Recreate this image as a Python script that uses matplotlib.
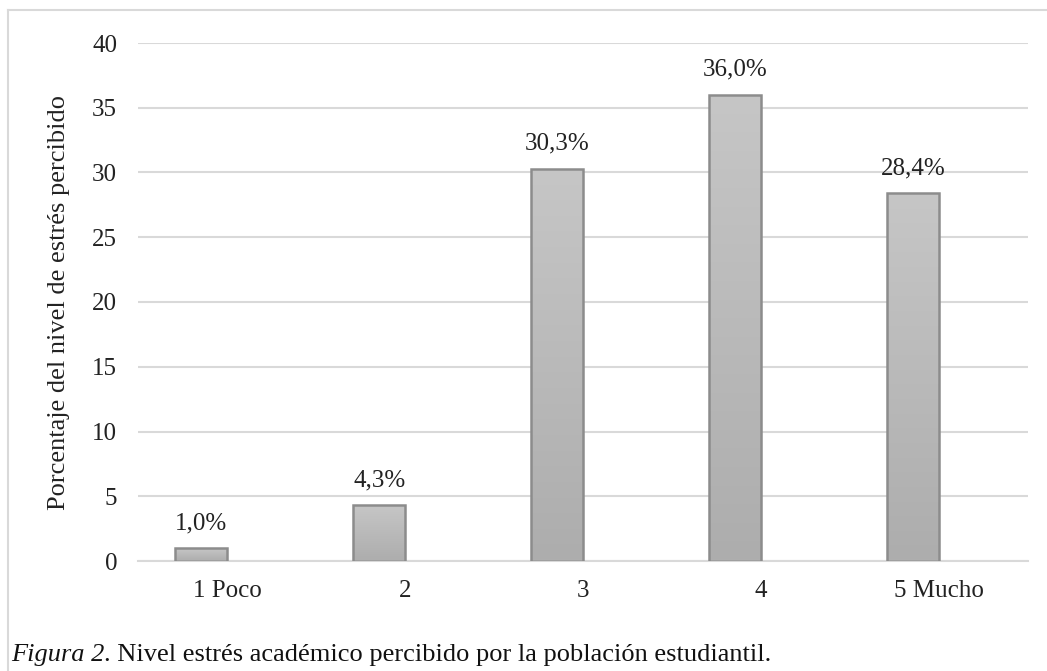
import matplotlib
matplotlib.use("Agg")
import matplotlib.pyplot as plt
import numpy as np
from matplotlib.lines import Line2D
from matplotlib.colors import LinearSegmentedColormap

categories = ["1 Poco", "2", "3", "4", "5 Mucho"]
values = [1.0, 4.3, 30.3, 36.0, 28.4]
labels = ["1,0%", "4,3%", "30,3%", "36,0%", "28,4%"]
yticks = [0, 5, 10, 15, 20, 25, 30, 35, 40]

plt.rcParams['font.family'] = ['Liberation Serif', 'DejaVu Serif']
FS = 18
FS_L = 19

fig = plt.figure(figsize=(10.47, 6.71), dpi=100)
ax = fig.add_axes([138/1047, 1-561/671, 890/1047, (561-43)/671])

x = np.arange(len(categories))
BW = 0.29
bars = ax.bar(x - BW / 2, values, width=BW, facecolor='none', edgecolor='#8c8c8c', linewidth=1.8, zorder=3)

grad = np.linspace(0, 1, 256).reshape(-1, 1)
cmap = LinearSegmentedColormap.from_list('g', ['#adadad', '#c6c6c6'])
for b in bars:
    x0, y0 = b.get_x(), b.get_y()
    w, h = b.get_width(), b.get_height()
    im = ax.imshow(grad, extent=[x0, x0 + w, y0, y0 + h], origin='lower',
                   cmap=cmap, aspect='auto', zorder=2)
    im.set_clip_path(b)

for b, lab in zip(bars, labels):
    ax.annotate(lab, (b.get_x() + b.get_width() / 2, b.get_height()), xytext=(0, 10),
                textcoords='offset points', ha='center', va='bottom', fontsize=FS, color='#222222')

ax.set_xlim(-0.5, 4.5)
ax.set_ylim(0, 40)
ax.set_yticks(yticks)
ax.set_yticklabels([str(t) for t in yticks])
ax.set_xticks(x)
ax.set_xticklabels(categories)
ax.tick_params(axis='both', length=0, labelsize=FS, colors='#222222')
ax.tick_params(axis='y', pad=15)
ax.tick_params(axis='x', pad=14)
ax.grid(axis='y', color='#d9d9d9', linewidth=1.5, zorder=0)
ax.set_axisbelow(True)
for s in ['top', 'right', 'left']:
    ax.spines[s].set_visible(False)
ax.spines['bottom'].set_color('#d9d9d9')
ax.spines['bottom'].set_linewidth(1.5)
ax.set_ylabel('Porcentaje del nivel de estrés percibido', fontsize=FS_L, color='#222222', labelpad=16)

# outer border
fig.add_artist(Line2D([8/1047, 1.01], [1-10/671, 1-10/671], transform=fig.transFigure, color='#d9d9d9', linewidth=1.5))
fig.add_artist(Line2D([8/1047, 8/1047], [-0.01, 1-10/671], transform=fig.transFigure, color='#d9d9d9', linewidth=1.5))

# caption
t1 = fig.text(11/1047, 1-655/671, 'Figura 2', fontsize=FS_L, style='italic', va='center', ha='left', color='#111111')
fig.canvas.draw()
bb = t1.get_window_extent()
fig.text(bb.x1/1047, 1-655/671, '. Nivel estrés académico percibido por la población estudiantil.',
         fontsize=FS_L, va='center', ha='left', color='#111111')

fig.savefig('out.png', dpi=100)
